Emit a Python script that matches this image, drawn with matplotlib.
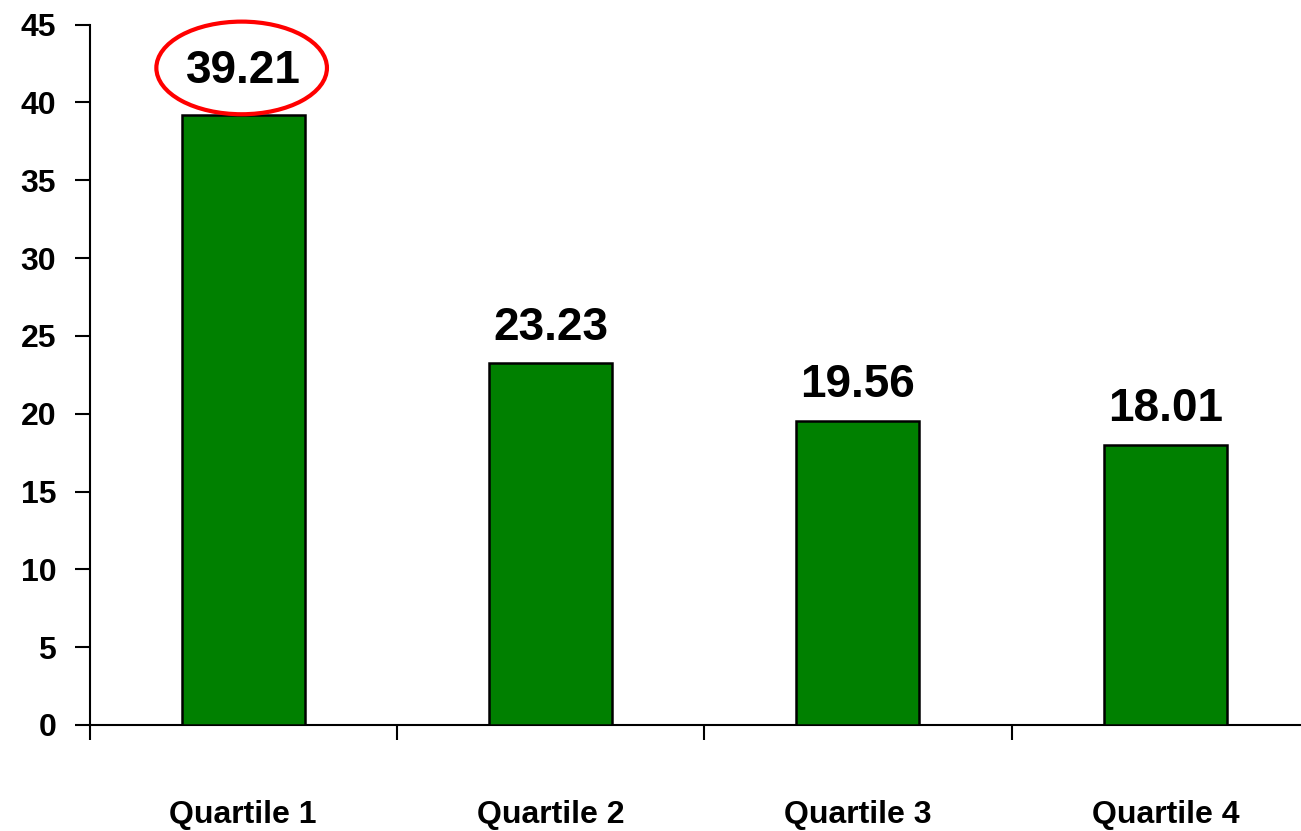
import matplotlib
matplotlib.use("Agg")
import matplotlib.pyplot as plt
from matplotlib.patches import Ellipse

categories = ["Quartile 1", "Quartile 2", "Quartile 3", "Quartile 4"]
values = [39.21, 23.23, 19.56, 18.01]
value_labels = ["39.21", "23.23", "19.56", "18.01"]
yticks = [0, 5, 10, 15, 20, 25, 30, 35, 40, 45]
highlight_index = 0

plt.rcParams['font.family'] = ['Liberation Sans', 'DejaVu Sans']
plt.rcParams['font.weight'] = 'bold'

W, H = 1301, 831
fig = plt.figure(figsize=(W / 100, H / 100), dpi=100)
ax_left, ax_right = 89.5 / W, 1319 / W
ax_bottom, ax_top = (H - 725) / H, (H - 24.5) / H
ax = fig.add_axes([ax_left, ax_bottom, ax_right - ax_left, ax_top - ax_bottom])

x = list(range(len(categories)))
ax.bar(x, values, width=0.4, color="#008000", edgecolor="black", linewidth=1.8, zorder=3)

ax.set_xlim(-0.5, len(categories) - 0.5)
ax.set_ylim(0, 45)
ax.set_yticks(yticks)
ax.set_yticklabels([str(t) for t in yticks], fontsize=23, fontweight='bold')

ax.set_xticks([i - 0.5 for i in range(len(categories))])
ax.set_xticklabels([])
ax.set_xticks(x, minor=True)
ax.set_xticklabels(categories, minor=True, fontsize=23, fontweight='bold')
ax.tick_params(axis='x', which='minor', length=0, pad=54)
ax.tick_params(axis='x', which='major', length=11, width=1.5, direction='out')
ax.tick_params(axis='y', length=11, width=1.5, direction='out', pad=13)

for s in ['top', 'right']:
    ax.spines[s].set_visible(False)
for s in ['left', 'bottom']:
    ax.spines[s].set_linewidth(1.5)

for i, (v, lab) in enumerate(zip(values, value_labels)):
    off = 23 if i == highlight_index else 17
    ax.annotate(lab, (i, v), xytext=(0, off), textcoords='offset points',
                ha='center', va='baseline', fontsize=33, fontweight='bold', zorder=5)

hv = values[highlight_index]
ell = Ellipse((highlight_index - 0.005, hv + 3.0), width=0.555, height=5.95,
              fill=False, edgecolor='#FF0000', linewidth=3, clip_on=False, zorder=6)
ax.add_patch(ell)

fig.savefig("out.png", dpi=100)
